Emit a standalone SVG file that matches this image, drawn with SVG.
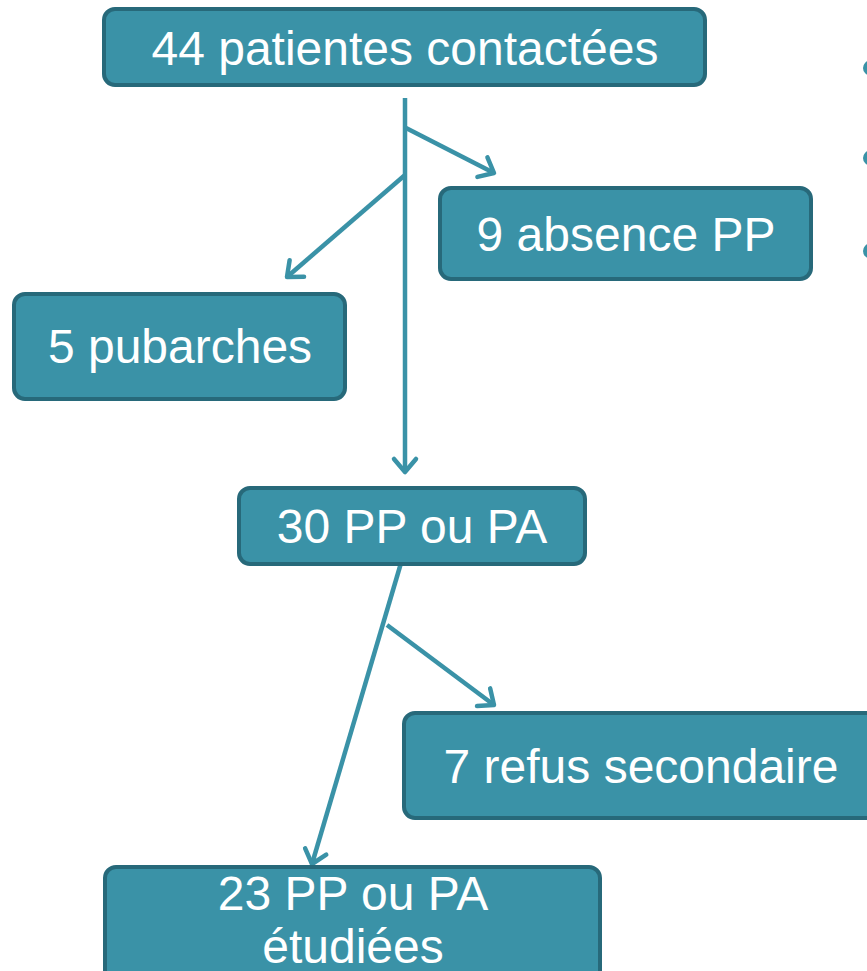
<svg xmlns="http://www.w3.org/2000/svg" width="867" height="971" viewBox="0 0 867 971">
<defs>
<style>
.box{fill:#3a92a7;stroke:#27697a;stroke-width:4}
.lbl{font-family:"Liberation Sans",Arial,sans-serif;font-size:48px;fill:#ffffff;text-anchor:middle}
.conn{stroke:#3a92a7;stroke-width:4.5;fill:none}
.bul{fill:#3a92a7}
</style>
<marker id="arr" markerUnits="userSpaceOnUse" markerWidth="30" markerHeight="30" viewBox="-16 -15 20 30" refX="0" refY="0" orient="auto">
<path d="M-13,-11 L0,0 L-13,11" fill="none" stroke="#3a92a7" stroke-width="4.5" stroke-linecap="round" stroke-linejoin="round"/>
</marker>
</defs>
<rect width="867" height="971" fill="#ffffff"/>
<g id="connectors">
<line class="conn" x1="405" y1="98" x2="405" y2="472" marker-end="url(#arr)"/>
<line class="conn" x1="406" y1="128" x2="494" y2="173" marker-end="url(#arr)"/>
<line class="conn" x1="405" y1="175" x2="287" y2="277" marker-end="url(#arr)"/>
<line class="conn" x1="401" y1="563" x2="312" y2="864" marker-end="url(#arr)"/>
<line class="conn" x1="387" y1="625" x2="494" y2="705" marker-end="url(#arr)"/>
</g>
<g id="node-44">
<rect class="box" x="104" y="9" width="601" height="76" rx="11"/>
<text class="lbl" x="405" y="65">44 patientes contactées</text>
</g>
<g id="node-9">
<rect class="box" x="440" y="188" width="371" height="91" rx="11"/>
<text class="lbl" x="626" y="251">9 absence PP</text>
</g>
<g id="node-5">
<rect class="box" x="14" y="294" width="331" height="105" rx="11"/>
<text class="lbl" x="180" y="363">5 pubarches</text>
</g>
<g id="node-30">
<rect class="box" x="239" y="488" width="346" height="76" rx="11"/>
<text class="lbl" x="412" y="543">30 PP ou PA</text>
</g>
<g id="node-7">
<rect class="box" x="404" y="713" width="475" height="105" rx="11"/>
<text class="lbl" x="641" y="783">7 refus secondaire</text>
</g>
<g id="node-23">
<rect class="box" x="105" y="867" width="495" height="120" rx="11"/>
<text class="lbl" x="353" y="910">23 PP ou PA</text>
<text class="lbl" x="353" y="963">étudiées</text>
</g>
<g id="bullets">
<circle class="bul" cx="870.5" cy="68" r="7.5"/>
<circle class="bul" cx="870.5" cy="158" r="7.5"/>
<circle class="bul" cx="870.5" cy="251" r="7.5"/>
</g>
</svg>
